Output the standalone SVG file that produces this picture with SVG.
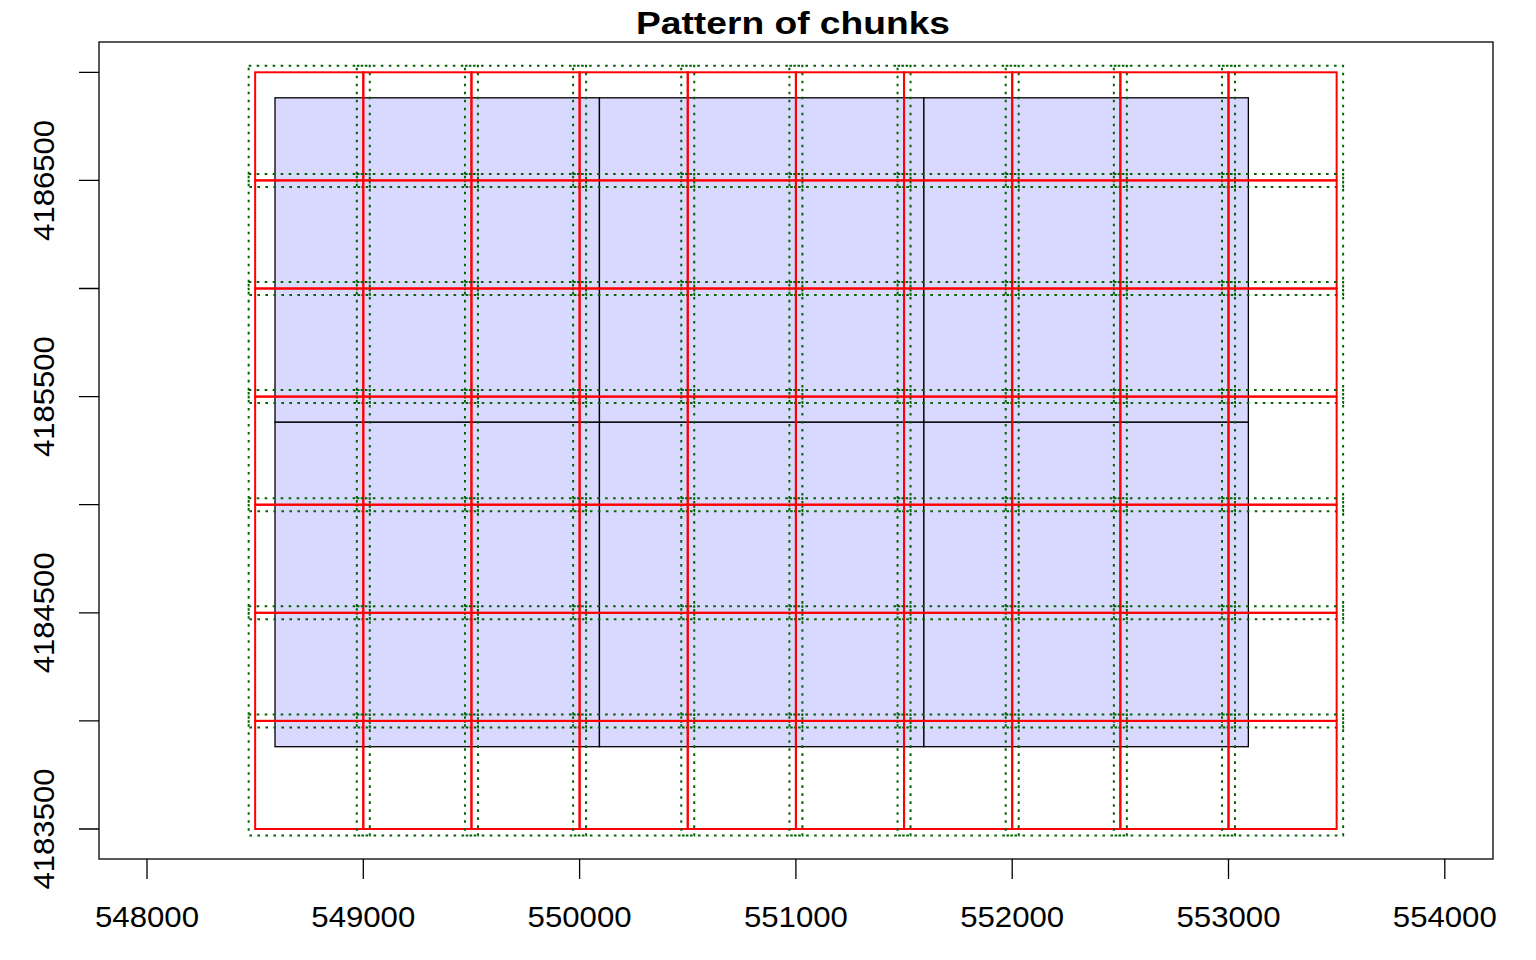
<svg xmlns="http://www.w3.org/2000/svg" xmlns:xlink="http://www.w3.org/1999/xlink" width="1536" height="960" viewBox="0 0 1536 960">
<style>
.tile{fill:#D9D9FF;stroke:#000;stroke-width:1.3}
.chunk{fill:none;stroke:#FF0000;stroke-width:2}
.buf{fill:none;stroke:#006400;stroke-width:2;stroke-dasharray:2.6 5.4}
.ax{stroke:#000;stroke-width:1.3;fill:none}
.lab{font-family:"Liberation Sans",Arial,sans-serif;font-size:29.5px;fill:#000;text-anchor:middle}
.title{font-family:"Liberation Sans",Arial,sans-serif;font-size:32px;font-weight:bold;fill:#000;text-anchor:middle}
</style>
<defs>
<g id="ch">
<rect class="buf" x="-6.49" y="-6.49" width="121.13" height="121.08"/>
<rect class="chunk" x="0" y="0" width="108.15" height="108.1"/>
</g>
</defs>
<rect width="1536" height="960" fill="#fff"/>
<text class="title" x="793" y="34" textLength="314" lengthAdjust="spacingAndGlyphs">Pattern of chunks</text>
<g id="tiles">
<rect class="tile" x="275" y="97.8" width="324.45" height="324.45"/>
<rect class="tile" x="599.45" y="97.8" width="324.45" height="324.45"/>
<rect class="tile" x="923.9" y="97.8" width="324.45" height="324.45"/>
<rect class="tile" x="275" y="422.25" width="324.45" height="324.45"/>
<rect class="tile" x="599.45" y="422.25" width="324.45" height="324.45"/>
<rect class="tile" x="923.9" y="422.25" width="324.45" height="324.45"/>
</g>
<g id="chunks">
<use xlink:href="#ch" x="255.15" y="72.3"/><use xlink:href="#ch" x="363.3" y="72.3"/><use xlink:href="#ch" x="471.45" y="72.3"/><use xlink:href="#ch" x="579.6" y="72.3"/><use xlink:href="#ch" x="687.75" y="72.3"/><use xlink:href="#ch" x="795.9" y="72.3"/><use xlink:href="#ch" x="904.05" y="72.3"/><use xlink:href="#ch" x="1012.2" y="72.3"/><use xlink:href="#ch" x="1120.35" y="72.3"/><use xlink:href="#ch" x="1228.5" y="72.3"/>
<use xlink:href="#ch" x="255.15" y="180.4"/><use xlink:href="#ch" x="363.3" y="180.4"/><use xlink:href="#ch" x="471.45" y="180.4"/><use xlink:href="#ch" x="579.6" y="180.4"/><use xlink:href="#ch" x="687.75" y="180.4"/><use xlink:href="#ch" x="795.9" y="180.4"/><use xlink:href="#ch" x="904.05" y="180.4"/><use xlink:href="#ch" x="1012.2" y="180.4"/><use xlink:href="#ch" x="1120.35" y="180.4"/><use xlink:href="#ch" x="1228.5" y="180.4"/>
<use xlink:href="#ch" x="255.15" y="288.5"/><use xlink:href="#ch" x="363.3" y="288.5"/><use xlink:href="#ch" x="471.45" y="288.5"/><use xlink:href="#ch" x="579.6" y="288.5"/><use xlink:href="#ch" x="687.75" y="288.5"/><use xlink:href="#ch" x="795.9" y="288.5"/><use xlink:href="#ch" x="904.05" y="288.5"/><use xlink:href="#ch" x="1012.2" y="288.5"/><use xlink:href="#ch" x="1120.35" y="288.5"/><use xlink:href="#ch" x="1228.5" y="288.5"/>
<use xlink:href="#ch" x="255.15" y="396.6"/><use xlink:href="#ch" x="363.3" y="396.6"/><use xlink:href="#ch" x="471.45" y="396.6"/><use xlink:href="#ch" x="579.6" y="396.6"/><use xlink:href="#ch" x="687.75" y="396.6"/><use xlink:href="#ch" x="795.9" y="396.6"/><use xlink:href="#ch" x="904.05" y="396.6"/><use xlink:href="#ch" x="1012.2" y="396.6"/><use xlink:href="#ch" x="1120.35" y="396.6"/><use xlink:href="#ch" x="1228.5" y="396.6"/>
<use xlink:href="#ch" x="255.15" y="504.7"/><use xlink:href="#ch" x="363.3" y="504.7"/><use xlink:href="#ch" x="471.45" y="504.7"/><use xlink:href="#ch" x="579.6" y="504.7"/><use xlink:href="#ch" x="687.75" y="504.7"/><use xlink:href="#ch" x="795.9" y="504.7"/><use xlink:href="#ch" x="904.05" y="504.7"/><use xlink:href="#ch" x="1012.2" y="504.7"/><use xlink:href="#ch" x="1120.35" y="504.7"/><use xlink:href="#ch" x="1228.5" y="504.7"/>
<use xlink:href="#ch" x="255.15" y="612.8"/><use xlink:href="#ch" x="363.3" y="612.8"/><use xlink:href="#ch" x="471.45" y="612.8"/><use xlink:href="#ch" x="579.6" y="612.8"/><use xlink:href="#ch" x="687.75" y="612.8"/><use xlink:href="#ch" x="795.9" y="612.8"/><use xlink:href="#ch" x="904.05" y="612.8"/><use xlink:href="#ch" x="1012.2" y="612.8"/><use xlink:href="#ch" x="1120.35" y="612.8"/><use xlink:href="#ch" x="1228.5" y="612.8"/>
<use xlink:href="#ch" x="255.15" y="720.9"/><use xlink:href="#ch" x="363.3" y="720.9"/><use xlink:href="#ch" x="471.45" y="720.9"/><use xlink:href="#ch" x="579.6" y="720.9"/><use xlink:href="#ch" x="687.75" y="720.9"/><use xlink:href="#ch" x="795.9" y="720.9"/><use xlink:href="#ch" x="904.05" y="720.9"/><use xlink:href="#ch" x="1012.2" y="720.9"/><use xlink:href="#ch" x="1120.35" y="720.9"/><use xlink:href="#ch" x="1228.5" y="720.9"/>
</g>
<g id="axes">
<rect class="ax" x="99" y="42" width="1394" height="817"/>
<path class="ax" d="M147 859V879M363.3 859V879M579.6 859V879M795.9 859V879M1012.2 859V879M1228.5 859V879M1444.8 859V879"/>
<path class="ax" d="M99 72.3H79M99 180.4H79M99 288.5H79M99 396.6H79M99 504.7H79M99 612.8H79M99 720.9H79M99 829H79"/>
<g class="lab">
<text x="147" y="927" textLength="104" lengthAdjust="spacingAndGlyphs">548000</text>
<text x="363.3" y="927" textLength="104" lengthAdjust="spacingAndGlyphs">549000</text>
<text x="579.6" y="927" textLength="104" lengthAdjust="spacingAndGlyphs">550000</text>
<text x="795.9" y="927" textLength="104" lengthAdjust="spacingAndGlyphs">551000</text>
<text x="1012.2" y="927" textLength="104" lengthAdjust="spacingAndGlyphs">552000</text>
<text x="1228.5" y="927" textLength="104" lengthAdjust="spacingAndGlyphs">553000</text>
<text x="1444.8" y="927" textLength="104" lengthAdjust="spacingAndGlyphs">554000</text>
<text transform="translate(53.5 829) rotate(-90)" textLength="121" lengthAdjust="spacingAndGlyphs">4183500</text>
<text transform="translate(53.5 612.8) rotate(-90)" textLength="121" lengthAdjust="spacingAndGlyphs">4184500</text>
<text transform="translate(53.5 396.6) rotate(-90)" textLength="121" lengthAdjust="spacingAndGlyphs">4185500</text>
<text transform="translate(53.5 180.4) rotate(-90)" textLength="121" lengthAdjust="spacingAndGlyphs">4186500</text>
</g>
</g>
</svg>
